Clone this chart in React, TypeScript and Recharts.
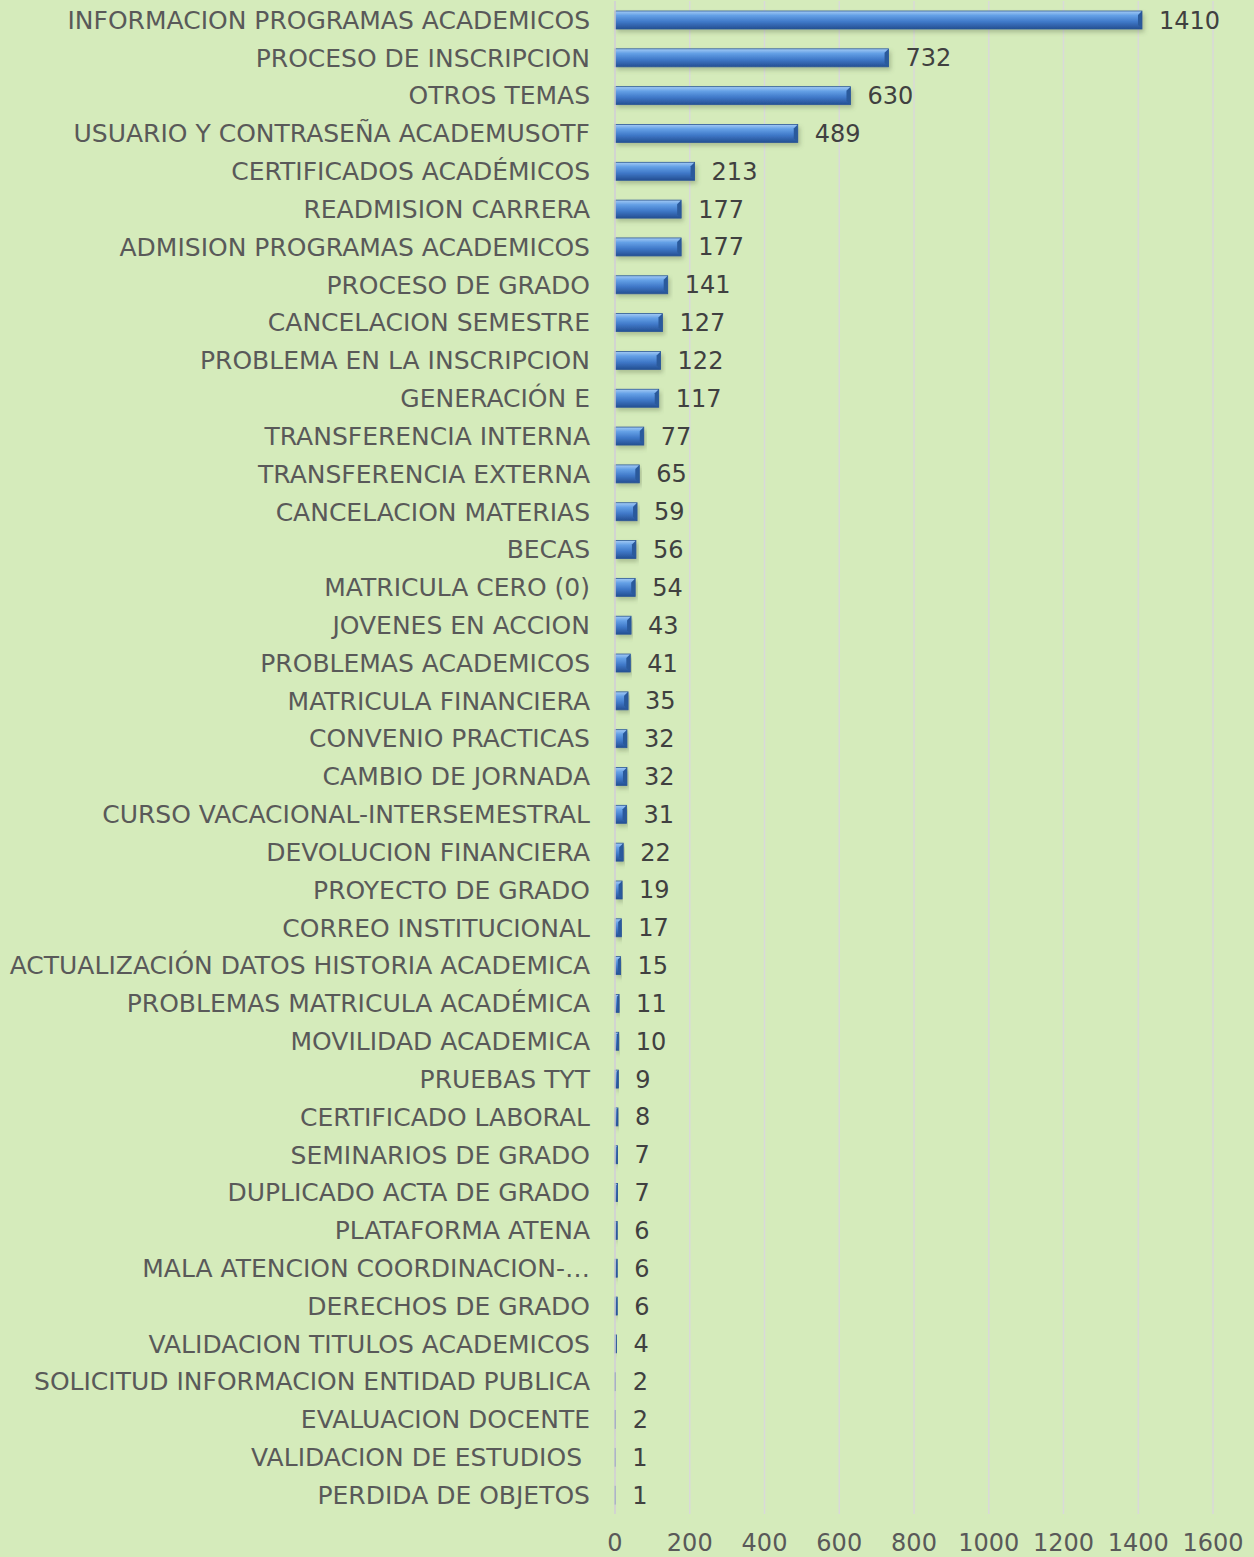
import { BarChart, Bar, XAxis, YAxis, CartesianGrid, LabelList } from 'recharts'

const categories = [
  'INFORMACION PROGRAMAS ACADEMICOS',
  'PROCESO DE INSCRIPCION',
  'OTROS TEMAS',
  'USUARIO Y CONTRASEÑA ACADEMUSOTF',
  'CERTIFICADOS ACADÉMICOS',
  'READMISION CARRERA',
  'ADMISION PROGRAMAS ACADEMICOS',
  'PROCESO DE GRADO',
  'CANCELACION SEMESTRE',
  'PROBLEMA EN LA INSCRIPCION',
  'GENERACIÓN E',
  'TRANSFERENCIA INTERNA',
  'TRANSFERENCIA EXTERNA',
  'CANCELACION MATERIAS',
  'BECAS',
  'MATRICULA CERO (0)',
  'JOVENES EN ACCION',
  'PROBLEMAS ACADEMICOS',
  'MATRICULA FINANCIERA',
  'CONVENIO PRACTICAS',
  'CAMBIO DE JORNADA',
  'CURSO VACACIONAL-INTERSEMESTRAL',
  'DEVOLUCION FINANCIERA',
  'PROYECTO DE GRADO',
  'CORREO INSTITUCIONAL',
  'ACTUALIZACIÓN DATOS HISTORIA ACADEMICA',
  'PROBLEMAS MATRICULA ACADÉMICA',
  'MOVILIDAD ACADEMICA',
  'PRUEBAS TYT',
  'CERTIFICADO LABORAL',
  'SEMINARIOS DE GRADO',
  'DUPLICADO ACTA DE GRADO',
  'PLATAFORMA ATENA',
  'MALA ATENCION COORDINACION-…',
  'DERECHOS DE GRADO',
  'VALIDACION TITULOS ACADEMICOS',
  'SOLICITUD INFORMACION ENTIDAD PUBLICA',
  'EVALUACION DOCENTE',
  'VALIDACION DE ESTUDIOS\u00a0',
  'PERDIDA DE OBJETOS',
]

const counts = [
  1410, 732, 630, 489, 213, 177, 177, 141, 127, 122, 117, 77, 65, 59, 56, 54, 43, 41, 35, 32,
  32, 31, 22, 19, 17, 15, 11, 10, 9, 8, 7, 7, 6, 6, 6, 4, 2, 2, 1, 1,
]

const xTicks = [0, 200, 400, 600, 800, 1000, 1200, 1400, 1600]

const data = categories.map((name, i) => ({ name, value: counts[i] }))

const BevelBar = (props: any) => {
  const { x, y, width, height } = props
  if (!width || width <= 0) return null
  const b = Math.min(4, width / 2)
  return (
    <g filter="url(#barShadow)">
      <rect x={x} y={y} width={width} height={height} fill="url(#barFill)" />
      <polygon
        points={`${x + width - b},${y + b} ${x + width},${y} ${x + width},${y + height} ${x + width - b},${y + height - b}`}
        fill="#2c5a9c"
      />
      <rect x={x} y={y} width={width} height={height} fill="none" stroke="#2b5797" strokeWidth={0.8} />
    </g>
  )
}

const App = () => {
  return (
    <div style={{ position: 'absolute', left: 0, top: 0, width: 1254, height: 1557, background: '#d5ebbb' }}>
      <BarChart
        width={1254}
        height={1557}
        data={data}
        layout="vertical"
        margin={{ top: 1, right: 41, bottom: 0, left: 0 }}
        barCategoryGap={0}
        style={{ fontFamily: '"DejaVu Sans", Verdana, sans-serif' }}
      >
        <defs>
          <linearGradient id="barFill" x1="0" y1="0" x2="0" y2="1">
            <stop offset="0%" stopColor="#a4cbf5" />
            <stop offset="25%" stopColor="#64a0e6" />
            <stop offset="60%" stopColor="#3f78c8" />
            <stop offset="100%" stopColor="#244f92" />
          </linearGradient>
          <filter id="barShadow" x="-5%" y="-30%" width="115%" height="180%">
            <feDropShadow dx="2" dy="3" stdDeviation="2" floodColor="#5a6b4a" floodOpacity="0.35" />
          </filter>
        </defs>
        <CartesianGrid horizontal={false} stroke="#d9d9d9" strokeWidth={1.5} />
        <XAxis
          type="number"
          domain={[0, 1600]}
          ticks={xTicks}
          axisLine={false}
          tickLine={false}
          tickSize={0}
          tickMargin={20}
          height={43}
          interval={0}
          tick={{ fill: '#595959', fontSize: 24 }}
        />
        <YAxis
          type="category"
          dataKey="name"
          width={615}
          axisLine={{ stroke: '#d0d0d0', strokeWidth: 1.5 }}
          tickLine={false}
          tickSize={0}
          tickMargin={25}
          interval={0}
          tick={{ fill: '#595959', fontSize: 25 }}
        />
        <Bar dataKey="value" barSize={18} shape={<BevelBar />} isAnimationActive={false}>
          <LabelList dataKey="value" position="right" offset={17} fill="#404040" fontSize={24} />
        </Bar>
      </BarChart>
    </div>
  )
}

export default App
